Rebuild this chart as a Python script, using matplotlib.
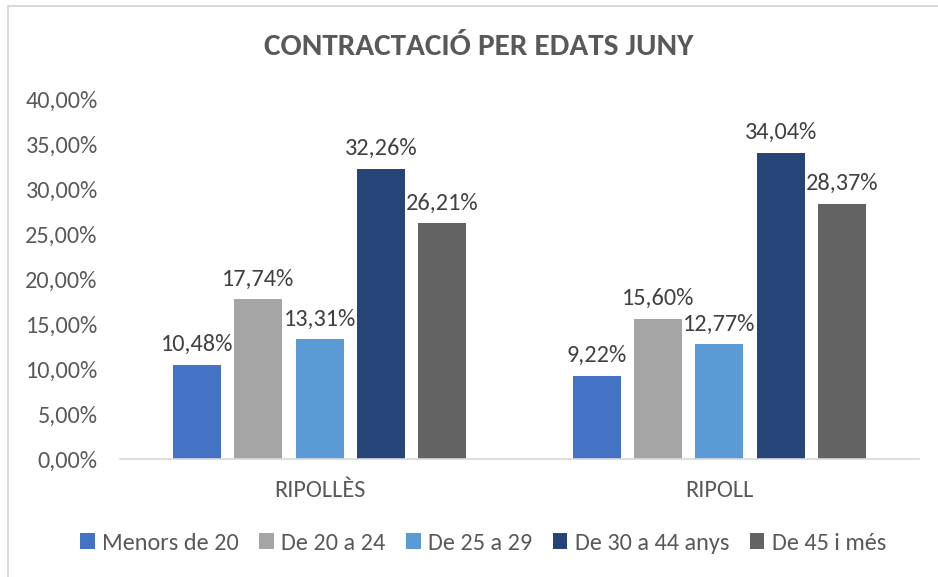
import matplotlib
matplotlib.use("Agg")
import matplotlib.pyplot as plt
from matplotlib.patches import Patch
from matplotlib.lines import Line2D
import numpy as np

categories = ["RIPOLLÈS", "RIPOLL"]
series_names = ["Menors de 20", "De 20 a 24", "De 25 a 29", "De 30 a 44 anys", "De 45 i més"]
values = {
    "Menors de 20": [10.48, 9.22],
    "De 20 a 24": [17.74, 15.60],
    "De 25 a 29": [13.31, 12.77],
    "De 30 a 44 anys": [32.26, 34.04],
    "De 45 i més": [26.21, 28.37],
}
colors = ["#4472C4", "#A5A5A5", "#5B9BD5", "#264478", "#636363"]
yticks = [0, 5, 10, 15, 20, 25, 30, 35, 40]
title = "CONTRACTACIÓ PER EDATS JUNY"

plt.rcParams['font.family'] = ['Carlito', 'Lato', 'DejaVu Sans']
txt = "#595959"
fs = 17.5

W, H = 938, 577
fig = plt.figure(figsize=(W / 100, H / 100), dpi=100)
ax = fig.add_axes([120 / W, 1 - 459 / H, (919 - 120) / W, (459 - 99) / H])

x = np.arange(len(categories))
width = 0.12
step = 0.1535
for i, name in enumerate(series_names):
    pos = x + (i - 2) * step
    bars = ax.bar(pos, values[name], width=width, color=colors[i], label=name, zorder=2)
    for b, v in zip(bars, values[name]):
        ax.annotate(f"{v:.2f}%".replace(".", ","),
                    (b.get_x() + b.get_width() / 2, b.get_height()),
                    xytext=(0, 7), textcoords="offset points",
                    ha="center", va="bottom", fontsize=fs, color="#404040")

ax.set_xlim(-0.5, 1.5)
ax.set_ylim(0, 40)
ax.set_yticks(yticks)
ax.set_yticklabels([f"{t:.2f}%".replace(".", ",") for t in yticks], fontsize=fs, color=txt)
ax.set_xticks(x)
ax.set_xticklabels(categories, fontsize=fs, color=txt)
ax.tick_params(axis="both", length=0)
ax.tick_params(axis="x", pad=15)
ax.tick_params(axis="y", pad=16)
for s in ["top", "right", "left"]:
    ax.spines[s].set_visible(False)
ax.spines["bottom"].set_color("#d9d9d9")
ax.spines["bottom"].set_linewidth(1.2)

fig.text(479 / W, 1 - 47 / H, title, ha="center", va="center",
         fontsize=22.5, fontweight="bold", color=txt)

handles = [Patch(facecolor=c, edgecolor="none") for c in colors]
fig.legend(handles, series_names, loc="center", bbox_to_anchor=(483 / W, 1 - 543 / H),
           ncol=5, frameon=False, fontsize=fs, handlelength=0.6, handleheight=0.6,
           handletextpad=0.3, columnspacing=0.85, labelcolor=txt)

# chart frame (left and top edges visible)
fig.add_artist(Line2D([8 / W, 8 / W], [0, 1 - 6 / H], transform=fig.transFigure, color="#d9d9d9", lw=1.5))
fig.add_artist(Line2D([8 / W, 1], [1 - 6 / H, 1 - 6 / H], transform=fig.transFigure, color="#d9d9d9", lw=1.5))

fig.savefig("out.png", dpi=100)
